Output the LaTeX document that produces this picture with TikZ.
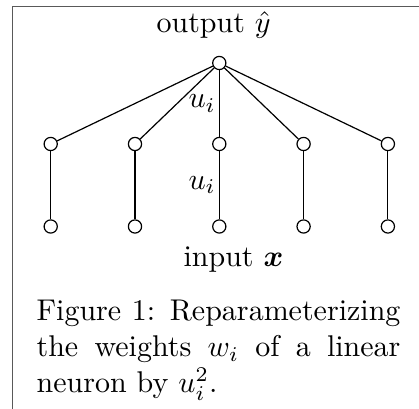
\documentclass[tikz,border=0pt]{standalone}
\usepackage{amsmath,amssymb}
\usepackage{bm}
\usetikzlibrary{positioning}

\tikzset{
  unit/.style={circle, draw, fill=white, inner sep=0pt, minimum size=4.4pt},
  wlabel/.style={left, inner sep=1pt},
}

\begin{document}
\begin{tikzpicture}[x=1pt, y=1pt, line width=0.4pt]
    \useasboundingbox (0,0) rectangle (139.67,-136.33);

    % Frame
    \draw[black!65, line width=0.6pt] (4.17,-136.33) -- (4.17,-2.17) -- (139.67,-2.17);

    % Output
    \node[unit] (out) at (73.1,-21) {};
    \node[anchor=base west, inner sep=0pt] (outlabel) at (52,-11) {output $\hat{y}$};

    % Hidden units
    \node[unit] (h1) at (16.9,-48) {};
    \node[unit] (h2) at (45.0,-48) {};
    \node[unit] (h3) at (73.1,-48) {};
    \node[unit] (h4) at (101.2,-48) {};
    \node[unit] (h5) at (129.3,-48) {};

    % Inputs
    \node[unit] (x1) at (16.9,-75.5) {};
    \node[unit] (x2) at (45.0,-75.5) {};
    \node[unit] (x3) at (73.1,-75.5) {};
    \node[unit] (x4) at (101.2,-75.5) {};
    \node[unit] (x5) at (129.3,-75.5) {};
    \node[anchor=base west, inner sep=0pt] (inlabel) at (61,-89) {input $\bm{x}$};

    % Weights
    \draw (out) -- (h1) (out) -- (h2) (out) -- (h4) (out) -- (h5);
    \draw (h1) -- (x1) (h2) -- (x2) (h4) -- (x4) (h5) -- (x5);
    \draw (out) -- node[wlabel] (utop) {$u_i$} (h3);
    \draw (h3) -- node[wlabel] (ubot) {$u_i$} (x3);

    % Caption
    \node[anchor=north west, inner sep=0pt, text width=121.3pt, align=justify] (caption) at (12,-99.9)
        {Figure 1: Reparameterizing the weights $w_i$ of a linear neuron by $u_i^2$.};
\end{tikzpicture}
\end{document}
